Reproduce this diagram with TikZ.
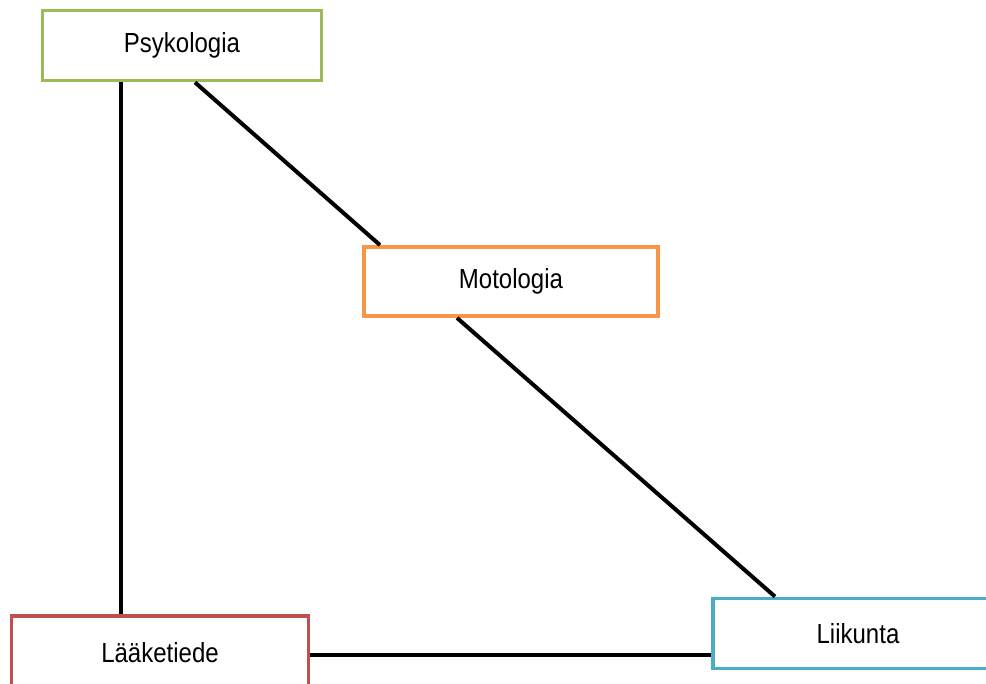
\documentclass[tikz,border=0pt]{standalone}
\usepackage{fontspec}
\setmainfont{Liberation Sans}
\definecolor{boxgreen}{RGB}{155,187,89}
\definecolor{boxorange}{RGB}{247,150,70}
\definecolor{boxred}{RGB}{192,80,77}
\definecolor{boxblue}{RGB}{75,172,198}
\newcommand{\boxlabel}[1]{\scalebox{1}[1.15]{#1}}
\begin{document}
\begin{tikzpicture}[x=1pt,y=1pt]
        \tikzstyle{every node}=[draw,rectangle,line width=3.8pt,fill=white,inner sep=0pt,minimum height=69pt,font=\fontsize{24}{28}\selectfont]
        \tikzstyle{link}=[line width=4pt,black]
        \useasboundingbox (0,0) rectangle (986,684);
        \clip (0,0) rectangle (986,684);
        \draw[link] (121,603) -- (121,68);
        \node[draw=boxgreen,minimum width=279pt,minimum height=70pt] (psy) at (182,638.5) {\boxlabel{Psykologia}};
        \node[draw=boxorange,minimum width=294pt] (mot) at (511,402.5) {\boxlabel{Motologia}};
        \node[draw=boxred,minimum width=297pt,minimum height=74pt] (lak) at (160,31) {\boxlabel{Lääketiede}};
        \node[draw=boxblue,minimum width=290pt,minimum height=70pt] (lii) at (858,50.5) {\boxlabel{Liikunta}};
        \draw[link] ([xshift=13pt]psy.south) -- ([xshift=-131pt]mot.north);
        \draw[link] ([xshift=-54pt]mot.south) -- ([xshift=-83pt]lii.north);
        \draw[link] ([yshift=-2pt]lak.east) -- ([yshift=-2pt]lak.east -| lii.west);
\end{tikzpicture}
\end{document}
